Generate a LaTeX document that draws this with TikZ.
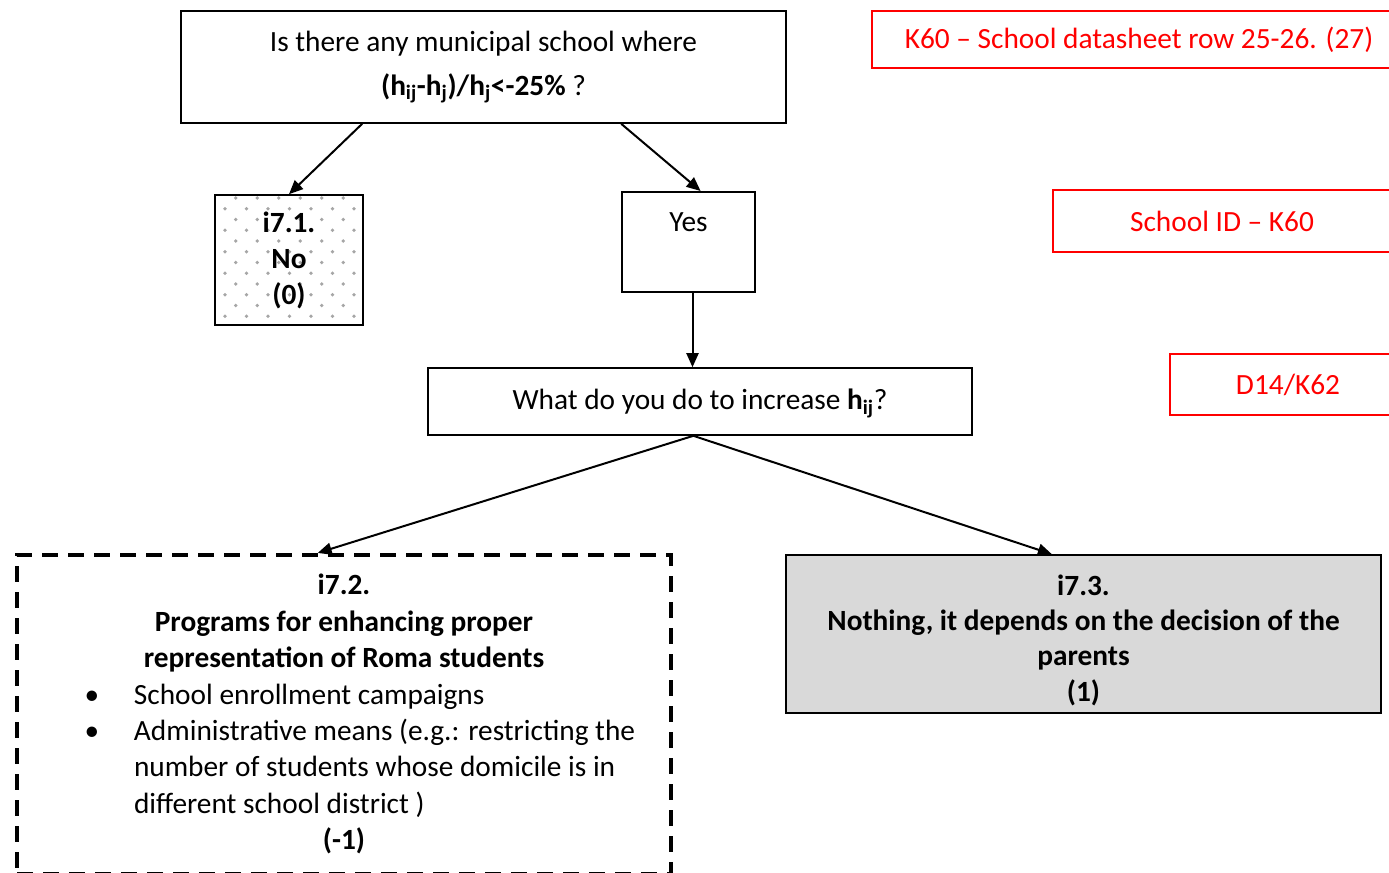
\documentclass[tikz,border=0pt]{standalone}
\usepackage{fontspec}
\setmainfont{Carlito}
\usetikzlibrary{positioning,calc,arrows.meta}

\newcommand\diafont{\fontsize{22}{27}\selectfont}
\newcommand\bulletline[2]{\makebox[431pt][l]{\hspace{21pt}\makebox[37pt][l]{#1}#2}}

\begin{document}
\begin{tikzpicture}
% Style
[
    x=.75pt, y=-.75pt, line width=1.2pt,
    every node/.style={font=\diafont, align=center, inner sep=0pt},
    box/.style={draw, shape=rectangle},
    boldbox/.style={box, font=\diafont\bfseries},
    refbox/.style={draw=red, text=red, shape=rectangle},
    link/.style={-{Triangle[length=10.5pt,width=9pt]}, line width=1.5pt}
]

\path[use as bounding box, clip] (0,0) rectangle (1389,872);

%=================================== Start ===================================
{
    % dotted background of the "No" box
    \foreach \r [
        evaluate={\y=198+10.75*\r},
        evaluate={\xo=ifthenelse(mod(\r,2)==0,235.7,225)},
        evaluate={\n=int(ifthenelse(mod(\r,2)==0,5,6))}
    ] in {0,...,11} {
        \foreach \k in {0,...,\n}
            \fill[black!35] (\xo+21.5*\k,\y) circle[radius=1.4pt];
    }

    \node[box, minimum width=453.75pt, minimum height=84pt] (quest) at (483.5,67)
        {Is there any municipal school where\\[6pt]
         \textbf{(h\textsubscript{ij}-h\textsubscript{j})/h\textsubscript{j}<-25\%} ?};
    \node[boldbox, minimum width=111pt, minimum height=97.5pt] (no) at (289,260) {i7.1.\\No\\(0)};
    \node[box, anchor=north, minimum width=99.75pt, text height=29.5pt, text depth=45.5pt] (yes) at (688.5,191) {Yes};
    \node[box, minimum width=408pt, minimum height=50.25pt] (act) at (700,401.5)
        {\rule{0pt}{19pt}What do you do to increase \textbf{h\textsubscript{ij}}?};

    \node[box, dashed, line width=3pt, dash pattern=on 12pt off 7.5pt,
          font=\fontsize{22}{27.3}\selectfont,
          minimum width=490.5pt, minimum height=239pt] (prog) at (344,714.3)
        {\textbf{i7.2.}\\
         \textbf{Programs for enhancing proper}\\
         \textbf{representation of Roma students}\\
         \bulletline{\textbullet}{School enrollment campaigns}\\
         \bulletline{\textbullet}{Administrative means (e.g.: restricting the}\\
         \bulletline{}{number of students whose domicile is in}\\
         \bulletline{}{different school district )}\\
         \textbf{(-1)}};
    \node[boldbox, fill=black!15, font=\fontsize{22}{26.5}\selectfont\bfseries,
          minimum width=446.25pt, minimum height=118.5pt] (none) at (1083.5,634)
        {\rule{0pt}{24.5pt}i7.3.\\Nothing, it depends on the decision of the\\parents\\(1)};

    % references
    \node[refbox, minimum width=400.5pt, minimum height=42.75pt] (ref-quest) at (1139,39.5) {K60 – School datasheet row 25-26. (27)};
    \node[refbox, minimum width=253.5pt, minimum height=46.5pt] (ref-id) at (1222,221) {School ID – K60};
    \node[refbox, minimum width=177pt, minimum height=45.75pt] (ref-act) at (1288,384.5) {D14/K62};

    \draw[link] ($(quest.south west)!.3!(quest.south east)$) -- (no.north);
    \draw[link] ($(quest.south west)!.727!(quest.south east)$) -- ($(yes.north west)!.59!(yes.north east)$);
    \draw[link] ([xshift=3pt]yes.south) -- ([xshift=3pt]yes.south |- act.north);
    \draw[link] ([xshift=-5pt]act.south) -- ($(prog.north west)!.46!(prog.north east)$);
    \draw[link] ([xshift=-5pt]act.south) -- ($(none.north west)!.447!(none.north east)$);
}
%==================================== END ====================================

\end{tikzpicture}
\end{document}
